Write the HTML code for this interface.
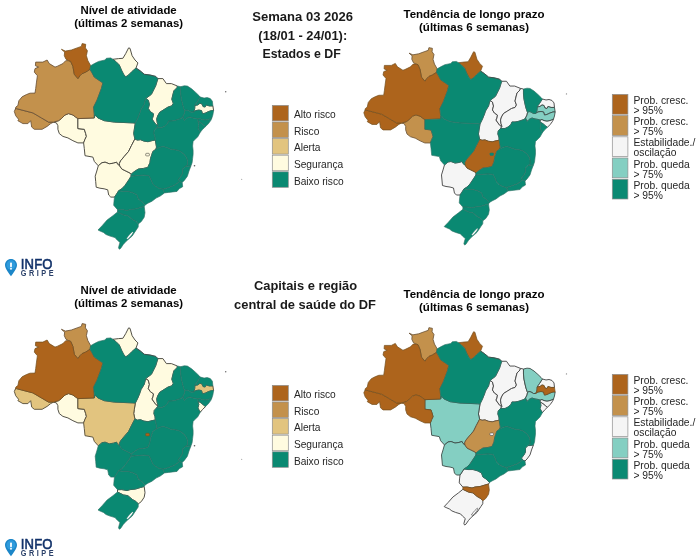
<!DOCTYPE html>
<html lang="pt-BR">
<head>
<meta charset="utf-8">
<title>InfoGripe - Semana 03 2026</title>
<style>
html,body{margin:0;padding:0;background:#fff;}
body{width:700px;height:560px;overflow:hidden;position:relative;font-family:"Liberation Sans",sans-serif;}
svg{position:absolute;left:0;top:0;display:block;}
.st path{stroke-linejoin:round;}
.mt{font:bold 11.4px "Liberation Sans",sans-serif;fill:#050505;text-anchor:middle;}
.m2{font-size:11.5px;}
.ct{font:bold 12.9px "Liberation Sans",sans-serif;fill:#1a1a1a;text-anchor:middle;}
.lt text{font:10.2px "Liberation Sans",sans-serif;fill:#262626;}
.lt2 text{font:10.3px "Liberation Sans",sans-serif;fill:#262626;}
.lg1{font:14px "Liberation Sans",sans-serif;fill:#12326a;stroke:#12326a;stroke-width:0.55;letter-spacing:0.2px;}
.lg2{font:bold 8.2px "Liberation Sans",sans-serif;fill:#2a4069;letter-spacing:2.85px;}
</style>
</head>
<body>
<svg width="700" height="560" viewBox="0 0 700 560">
<rect width="700" height="560" fill="#fff"/>
<g class="st">
<g transform="translate(0,0)">
<path d="M112.9,59.3L118.6,58.6L122.9,58.3L125.7,53.6L128.6,47.9L130.0,48.3L132.1,55.7L135.0,60.0L137.9,62.9L136.0,68.0L131.4,72.1L128.6,75.0L125.7,76.9L123.6,74.3L121.4,70.0L119.3,65.0L115.7,61.4L112.9,59.3Z" fill="#fffbe0" stroke="#4a483f" stroke-width="0.95"/>
<path d="M53.6,122.1L58.6,120.7L61.4,118.6L65.0,115.0L68.6,113.6L72.9,115.0L75.7,117.1L77.9,118.6L77.9,128.6L84.3,129.3L85.7,133.6L86.4,136.4L85.0,139.3L83.6,142.9L77.9,142.9L72.9,140.7L67.9,137.9L62.9,136.4L59.3,133.6L57.9,129.3L57.9,125.7L56.4,122.9L53.6,122.1Z" fill="#fffbe0" stroke="#4a483f" stroke-width="0.95"/>
<path d="M77.9,118.6L94.3,117.9L95.1,114.9L97.9,117.9L104.3,120.7L114.3,122.1L132.9,122.9L135.3,123.1L134.3,129.4L133.7,133.5L134.9,139.0L131.4,145.7L128.6,151.4L124.3,156.4L120.7,160.7L119.3,163.6L119.7,165.8L117.6,164.3L116.6,162.2L113.4,163.2L109.3,163.8L105.1,162.2L102.0,162.7L98.3,165.8L94.3,161.4L92.9,157.1L85.0,155.7L84.3,148.6L83.6,142.9L85.0,139.3L86.4,136.4L85.7,133.6L84.3,129.3L77.9,128.6L77.9,118.6Z" fill="#fffbe0" stroke="#4a483f" stroke-width="0.95"/>
<path d="M98.3,165.8L102.0,162.7L105.1,162.2L109.3,163.8L113.4,163.2L116.6,162.2L117.6,164.3L119.7,165.8L121.8,169.0L125.9,171.0L130.1,173.1L131.1,174.2L131.1,176.2L129.1,179.4L127.0,182.5L124.9,185.6L121.8,188.8L118.6,190.8L116.6,194.0L114.5,197.1L110.8,197.1L108.7,195.0L107.7,189.8L104.1,188.8L99.9,188.2L96.2,187.2L95.7,181.5L95.2,176.2L96.8,171.0L98.3,165.8Z" fill="#fffbe0" stroke="#4a483f" stroke-width="0.95"/>
<path d="M157.9,78.6L162.9,78.6L166.4,83.6L171.4,83.6L177.4,86.0L177.0,87.7L173.9,90.8L172.8,95.0L171.8,99.2L173.3,103.3L171.8,105.9L168.1,107.0L164.0,109.6L159.8,112.2L157.7,115.8L156.7,119.0L157.2,122.6L158.2,125.7L156.1,124.7L154.1,122.1L152.0,119.0L153.0,116.9L153.5,113.8L150.4,111.7L148.3,108.5L149.4,104.4L148.3,100.2L145.7,98.6L151.4,94.3L155.7,85.7L157.9,78.6Z" fill="#fffbe0" stroke="#4a483f" stroke-width="0.95"/>
<path d="M212.9,105.9L213.6,110.6L211.4,110.6L208.2,111.7L205.1,113.2L202.5,113.8L201.5,110.6L198.9,110.1L195.7,110.6L193.1,112.2L194.2,110.6L194.7,108.5L194.9,105.4L197.8,104.9L199.9,103.3L202.0,103.9L203.0,106.5L205.1,107.0L206.1,104.9L209.3,105.9L212.9,105.9Z" fill="#fffbe0" stroke="#4a483f" stroke-width="0.95"/>
<path d="M134.9,139.0L137.4,140.1L140.5,139.7L143.9,141.1L148.0,141.7L152.2,140.6L155.3,140.0L156.5,147.1L155.9,149.2L152.8,151.5L151.7,154.9L150.5,158.5L149.9,162.7L149.4,163.8L147.8,167.4L143.6,168.4L138.4,169.0L134.3,171.6L131.1,174.2L130.1,173.1L125.9,171.0L121.8,169.0L119.7,165.8L119.3,163.6L120.7,160.7L124.3,156.4L128.6,151.4L131.4,145.7L134.9,139.0Z" fill="#fffbe0" stroke="#4a483f" stroke-width="0.95"/>
<path d="M15.4,109.0L16.4,108.6L32.9,112.9L41.4,117.9L48.6,122.1L53.6,122.1L50.7,123.6L47.1,126.4L42.1,129.3L34.3,129.3L31.7,127.1L30.7,120.7L27.9,123.6L22.9,123.6L17.9,120.7L18.6,119.3L15.7,115.7L14.3,111.4L15.4,109.0Z" fill="#c3914c" stroke="#6a5236" stroke-width="0.85"/>
<path d="M15.4,109.0L15.9,107.0L17.9,105.5L18.9,100.7L22.1,96.8L26.4,94.6L30.0,93.2L35.0,93.1L35.7,88.6L36.4,82.9L37.4,75.7L34.3,72.1L35.0,68.6L38.6,67.1L35.4,65.7L35.7,62.1L42.9,62.1L47.1,60.0L49.3,63.6L55.0,67.1L57.1,66.4L62.9,63.6L65.7,60.7L68.6,60.7L70.7,61.4L72.9,66.4L74.3,74.3L77.9,78.6L80.0,75.7L82.1,73.6L85.7,72.1L90.0,69.3L92.1,72.9L94.3,77.1L102.9,82.9L101.4,88.6L97.1,100.0L93.6,107.1L94.3,114.3L94.3,117.9L77.9,118.6L75.7,117.1L72.9,115.0L68.6,113.6L65.0,115.0L61.4,118.6L58.6,120.7L53.6,122.1L48.6,122.1L41.4,117.9L32.9,112.9L16.4,108.6L15.4,109.0Z" fill="#c3914c" stroke="#6a5236" stroke-width="0.85"/>
<path d="M68.6,60.7L66.0,59.3L64.3,55.7L64.6,52.1L61.4,49.3L65.4,51.1L71.4,50.0L77.1,47.9L81.4,46.4L82.1,43.6L85.7,44.3L85.4,47.9L87.4,50.7L86.4,55.7L87.9,60.7L90.7,65.7L90.0,69.3L85.7,72.1L82.1,73.6L80.0,75.7L77.9,78.6L74.3,74.3L72.9,66.4L70.7,61.4L68.6,60.7Z" fill="#ad641c" stroke="#74501f" stroke-width="0.75"/>
<path d="M90.7,65.7L94.3,63.6L98.6,61.4L105.0,60.0L106.4,58.3L110.7,57.9L112.9,59.3L115.7,61.4L119.3,65.0L121.4,70.0L123.6,74.3L125.7,76.9L128.6,75.0L131.4,72.1L136.0,68.0L140.0,70.7L144.3,74.3L150.0,75.0L155.7,76.4L157.9,78.6L155.7,85.7L151.4,94.3L145.7,98.6L144.2,104.4L141.0,109.6L140.0,112.7L137.9,117.9L135.3,123.1L132.9,122.9L114.3,122.1L104.3,120.7L97.9,117.9L95.1,114.9L94.3,117.9L94.3,114.3L93.6,107.1L97.1,100.0L101.4,88.6L102.9,82.9L94.3,77.1L92.1,72.9L90.0,69.3L90.7,65.7Z" fill="#0a8972" stroke="#2d7164" stroke-width="0.65"/>
<path d="M135.3,123.1L137.9,117.9L140.0,112.7L141.0,109.6L144.2,104.4L145.7,98.6L148.3,100.2L149.4,104.4L148.3,108.5L150.4,111.7L153.5,113.8L153.0,116.9L152.0,119.0L154.1,122.1L156.1,124.7L158.2,125.7L156.7,127.8L154.3,130.4L153.9,133.5L155.0,136.7L155.3,140.0L152.2,140.6L148.0,141.7L143.9,141.1L140.5,139.7L137.4,140.1L134.9,139.0L133.7,133.5L134.3,129.4L135.3,123.1Z" fill="#0a8972" stroke="#2d7164" stroke-width="0.65"/>
<path d="M177.4,86.0L180.6,86.7L180.6,91.9L181.1,97.1L182.2,102.3L183.2,106.5L184.8,111.1L184.3,113.8L182.7,116.9L181.1,118.4L178.0,119.5L174.9,120.5L171.8,121.0L168.6,121.0L167.6,123.6L164.5,126.3L161.4,127.8L156.7,127.8L158.2,125.7L157.2,122.6L156.7,119.0L157.7,115.8L159.8,112.2L164.0,109.6L168.1,107.0L171.8,105.9L173.3,103.3L171.8,99.2L172.8,95.0L173.9,90.8L177.0,87.7L177.4,86.0Z" fill="#0a8972" stroke="#2d7164" stroke-width="0.65"/>
<path d="M180.6,86.7L184.3,85.8L187.4,86.1L191.6,88.8L195.7,92.4L198.9,95.5L200.4,97.1L198.9,99.2L197.3,101.8L195.7,103.9L194.9,105.4L194.7,108.5L194.2,110.6L193.1,112.2L191.0,112.2L188.4,110.6L186.4,110.1L184.8,111.1L183.2,106.5L182.2,102.3L181.1,97.1L180.6,91.9L180.6,86.7Z" fill="#0a8972" stroke="#2d7164" stroke-width="0.65"/>
<path d="M200.4,97.1L204.1,98.1L207.2,97.6L210.3,98.6L212.4,101.2L212.9,105.9L209.3,105.9L206.1,104.9L205.1,107.0L203.0,106.5L202.0,103.9L199.9,103.3L197.8,104.9L194.9,105.4L195.7,103.9L197.3,101.8L198.9,99.2L200.4,97.1Z" fill="#0a8972" stroke="#2d7164" stroke-width="0.65"/>
<path d="M213.6,110.6L212.9,114.8L211.9,117.9L208.2,119.5L205.1,120.0L202.0,119.5L199.9,118.4L197.8,119.0L195.7,118.4L192.6,117.9L189.5,116.9L186.4,118.4L184.3,120.5L182.7,116.9L184.3,113.8L184.8,111.1L186.4,110.1L188.4,110.6L191.0,112.2L193.1,112.2L195.7,110.6L198.9,110.1L201.5,110.6L202.5,113.8L205.1,113.2L208.2,111.7L211.4,110.6L213.6,110.6Z" fill="#0a8972" stroke="#2d7164" stroke-width="0.65"/>
<path d="M211.9,117.9L210.9,120.3L208.4,123.7L205.5,126.6L203.4,124.9L200.9,122.8L198.8,121.6L197.9,121.2L197.8,119.0L199.9,118.4L202.0,119.5L205.1,120.0L208.2,119.5L211.9,117.9Z" fill="#0a8972" stroke="#2d7164" stroke-width="0.65"/>
<path d="M205.5,126.6L202.5,129.5L200.4,132.1L199.2,130.4L197.9,127.9L198.8,124.5L197.9,121.2L198.8,121.6L200.9,122.8L203.4,124.9L205.5,126.6Z" fill="#0a8972" stroke="#2d7164" stroke-width="0.65"/>
<path d="M200.4,132.1L197.8,136.7L194.7,139.8L193.1,141.4L192.6,146.0L193.1,150.2L193.1,154.4L192.6,158.5L192.1,162.7L191.0,165.8L187.4,166.4L185.3,166.4L187.4,164.8L187.4,160.6L186.4,157.5L184.3,154.4L180.1,151.2L177.0,150.2L170.7,149.2L166.6,147.6L163.4,146.6L159.8,147.3L155.9,149.2L156.5,147.1L155.3,140.0L155.0,136.7L153.9,133.5L154.3,130.4L156.7,127.8L161.4,127.8L164.5,126.3L167.6,123.6L168.6,121.0L171.8,121.0L174.9,120.5L178.0,119.5L181.1,118.4L182.7,116.9L184.3,120.5L186.4,118.4L189.5,116.9L192.6,117.9L195.7,118.4L197.8,119.0L197.9,121.2L198.8,124.5L197.9,127.9L199.2,130.4L200.4,132.1Z" fill="#0a8972" stroke="#2d7164" stroke-width="0.65"/>
<path d="M155.9,149.2L159.8,147.3L163.4,146.6L166.6,147.6L170.7,149.2L177.0,150.2L180.1,151.2L184.3,154.4L186.4,157.5L187.4,160.6L187.4,164.8L185.3,166.4L182.7,169.0L182.7,173.1L181.1,176.2L178.5,179.4L179.6,181.5L177.0,183.5L173.9,185.6L170.7,186.7L166.6,188.2L162.9,189.3L158.7,188.2L155.1,186.1L152.5,183.5L150.9,179.4L148.9,175.7L143.6,175.2L137.4,175.7L131.1,176.2L131.1,174.2L134.3,171.6L138.4,169.0L143.6,168.4L147.8,167.4L149.4,163.8L149.9,162.7L150.5,158.5L151.7,154.9L152.8,151.5L155.9,149.2Z" fill="#0a8972" stroke="#2d7164" stroke-width="0.65"/>
<path d="M191.0,165.8L189.0,171.0L187.4,176.2L184.3,180.4L182.2,182.5L179.6,181.5L178.5,179.4L181.1,176.2L182.7,173.1L182.7,169.0L185.3,166.4L187.4,166.4L191.0,165.8Z" fill="#0a8972" stroke="#2d7164" stroke-width="0.65"/>
<path d="M182.2,182.5L182.7,186.7L179.1,188.8L177.0,191.4L172.8,191.9L168.6,192.4L164.5,192.9L162.9,189.3L166.6,188.2L170.7,186.7L173.9,185.6L177.0,183.5L179.6,181.5L182.2,182.5Z" fill="#0a8972" stroke="#2d7164" stroke-width="0.65"/>
<path d="M164.5,192.9L160.3,196.0L156.1,198.1L152.0,201.2L147.8,203.3L145.2,204.9L141.6,201.2L138.4,199.2L136.9,195.0L133.2,192.9L128.0,191.4L122.8,191.4L118.6,190.8L121.8,188.8L124.9,185.6L127.0,182.5L129.1,179.4L131.1,176.2L137.4,175.7L143.6,175.2L148.9,175.7L150.9,179.4L152.5,183.5L155.1,186.1L158.7,188.2L162.9,189.3L164.5,192.9Z" fill="#0a8972" stroke="#2d7164" stroke-width="0.65"/>
<path d="M145.2,204.9L144.2,206.5L140.5,207.5L135.3,209.1L130.1,209.6L127.0,210.6L121.8,209.6L117.5,209.7L113.7,205.3L114.0,201.2L114.5,197.1L116.6,194.0L118.6,190.8L122.8,191.4L128.0,191.4L133.2,192.9L136.9,195.0L138.4,199.2L141.6,201.2L145.2,204.9Z" fill="#0a8972" stroke="#2d7164" stroke-width="0.65"/>
<path d="M144.2,206.5L145.0,212.7L144.2,217.2L141.3,221.6L138.3,223.9L136.1,221.6L132.3,219.4L127.9,215.7L123.4,214.9L117.5,212.0L117.5,209.7L121.8,209.6L127.0,210.6L130.1,209.6L135.3,209.1L140.5,207.5L144.2,206.5Z" fill="#0a8972" stroke="#2d7164" stroke-width="0.65"/>
<path d="M138.3,223.9L138.2,227.0L136.2,230.0L134.2,233.0L132.2,236.0L129.3,238.6L126.2,241.2L123.2,244.6L120.6,248.4L119.3,249.2L118.5,247.8L119.2,245.0L120.0,242.5L117.2,240.0L115.0,237.6L110.0,236.1L106.0,234.5L103.5,232.5L100.0,231.0L98.0,230.0L102.1,225.7L107.1,220.0L112.9,215.7L117.5,212.0L123.4,214.9L127.9,215.7L132.3,219.4L136.1,221.6L138.3,223.9Z" fill="#0a8972" stroke="#2d7164" stroke-width="0.65"/>
<path d="M145.7,153.9L146.2,153.3L148.9,153.3L149.4,153.9L149.4,155.4L148.9,155.9L146.2,155.9L145.7,155.4Z" fill="#fffbe0" stroke="#4a483f" stroke-width="0.6"/>
<path d="M136.0,68.0L140.0,70.7L144.3,74.3L150.0,75.0L155.7,76.4L157.9,78.6" fill="none" stroke="#3d4a46" stroke-width="0.9"/>
<path d="M126.4,238.6L128.0,236.4L130.0,234.0L132.4,231.7L133.3,232.3L132.0,234.6L130.0,236.9L127.8,239.2Z" fill="#fff" stroke="#2d7164" stroke-width="0.45"/>
<circle cx="225.7" cy="91.7" r="0.75" fill="#6a6a6a"/><circle cx="194.5" cy="165.8" r="0.8" fill="#5a5a5a"/><circle cx="241.7" cy="179.3" r="0.6" fill="#a0a0a0"/>
</g>
<g transform="translate(350.1,5.8) scale(0.96)">
<path d="M98.3,165.8L102.0,162.7L105.1,162.2L109.3,163.8L113.4,163.2L116.6,162.2L117.6,164.3L119.7,165.8L121.8,169.0L125.9,171.0L130.1,173.1L131.1,174.2L131.1,176.2L129.1,179.4L127.0,182.5L124.9,185.6L121.8,188.8L118.6,190.8L116.6,194.0L114.5,197.1L110.8,197.1L108.7,195.0L107.7,189.8L104.1,188.8L99.9,188.2L96.2,187.2L95.7,181.5L95.2,176.2L96.8,171.0L98.3,165.8Z" fill="#f5f5f5" stroke="#444444" stroke-width="0.95"/>
<path d="M135.3,123.1L137.9,117.9L140.0,112.7L141.0,109.6L144.2,104.4L145.7,98.6L148.3,100.2L149.4,104.4L148.3,108.5L150.4,111.7L153.5,113.8L153.0,116.9L152.0,119.0L154.1,122.1L156.1,124.7L158.2,125.7L156.7,127.8L154.3,130.4L153.9,133.5L155.0,136.7L155.3,140.0L152.2,140.6L148.0,141.7L143.9,141.1L140.5,139.7L137.4,140.1L134.9,139.0L133.7,133.5L134.3,129.4L135.3,123.1Z" fill="#f5f5f5" stroke="#444444" stroke-width="0.95"/>
<path d="M157.9,78.6L162.9,78.6L166.4,83.6L171.4,83.6L177.4,86.0L177.0,87.7L173.9,90.8L172.8,95.0L171.8,99.2L173.3,103.3L171.8,105.9L168.1,107.0L164.0,109.6L159.8,112.2L157.7,115.8L156.7,119.0L157.2,122.6L158.2,125.7L156.1,124.7L154.1,122.1L152.0,119.0L153.0,116.9L153.5,113.8L150.4,111.7L148.3,108.5L149.4,104.4L148.3,100.2L145.7,98.6L151.4,94.3L155.7,85.7L157.9,78.6Z" fill="#f5f5f5" stroke="#444444" stroke-width="0.95"/>
<path d="M177.4,86.0L180.6,86.7L180.6,91.9L181.1,97.1L182.2,102.3L183.2,106.5L184.8,111.1L184.3,113.8L182.7,116.9L181.1,118.4L178.0,119.5L174.9,120.5L171.8,121.0L168.6,121.0L167.6,123.6L164.5,126.3L161.4,127.8L156.7,127.8L158.2,125.7L157.2,122.6L156.7,119.0L157.7,115.8L159.8,112.2L164.0,109.6L168.1,107.0L171.8,105.9L173.3,103.3L171.8,99.2L172.8,95.0L173.9,90.8L177.0,87.7L177.4,86.0Z" fill="#f5f5f5" stroke="#444444" stroke-width="0.95"/>
<path d="M200.4,97.1L204.1,98.1L207.2,97.6L210.3,98.6L212.4,101.2L212.9,105.9L209.3,105.9L206.1,104.9L205.1,107.0L203.0,106.5L202.0,103.9L199.9,103.3L197.8,104.9L194.9,105.4L195.7,103.9L197.3,101.8L198.9,99.2L200.4,97.1Z" fill="#f5f5f5" stroke="#444444" stroke-width="0.95"/>
<path d="M211.9,117.9L210.9,120.3L208.4,123.7L205.5,126.6L203.4,124.9L200.9,122.8L198.8,121.6L197.9,121.2L197.8,119.0L199.9,118.4L202.0,119.5L205.1,120.0L208.2,119.5L211.9,117.9Z" fill="#f5f5f5" stroke="#444444" stroke-width="0.95"/>
<path d="M212.9,105.9L213.6,110.6L211.4,110.6L208.2,111.7L205.1,113.2L202.5,113.8L201.5,110.6L198.9,110.1L195.7,110.6L193.1,112.2L194.2,110.6L194.7,108.5L194.9,105.4L197.8,104.9L199.9,103.3L202.0,103.9L203.0,106.5L205.1,107.0L206.1,104.9L209.3,105.9L212.9,105.9Z" fill="#84cfc2" stroke="#3f4e4a" stroke-width="0.95"/>
<path d="M213.6,110.6L212.9,114.8L211.9,117.9L208.2,119.5L205.1,120.0L202.0,119.5L199.9,118.4L197.8,119.0L195.7,118.4L192.6,117.9L189.5,116.9L186.4,118.4L184.3,120.5L182.7,116.9L184.3,113.8L184.8,111.1L186.4,110.1L188.4,110.6L191.0,112.2L193.1,112.2L195.7,110.6L198.9,110.1L201.5,110.6L202.5,113.8L205.1,113.2L208.2,111.7L211.4,110.6L213.6,110.6Z" fill="#84cfc2" stroke="#3f4e4a" stroke-width="0.95"/>
<path d="M68.6,60.7L66.0,59.3L64.3,55.7L64.6,52.1L61.4,49.3L65.4,51.1L71.4,50.0L77.1,47.9L81.4,46.4L82.1,43.6L85.7,44.3L85.4,47.9L87.4,50.7L86.4,55.7L87.9,60.7L90.7,65.7L90.0,69.3L85.7,72.1L82.1,73.6L80.0,75.7L77.9,78.6L74.3,74.3L72.9,66.4L70.7,61.4L68.6,60.7Z" fill="#c3914c" stroke="#6a5236" stroke-width="0.85"/>
<path d="M53.6,122.1L58.6,120.7L61.4,118.6L65.0,115.0L68.6,113.6L72.9,115.0L75.7,117.1L77.9,118.6L77.9,128.6L84.3,129.3L85.7,133.6L86.4,136.4L85.0,139.3L83.6,142.9L77.9,142.9L72.9,140.7L67.9,137.9L62.9,136.4L59.3,133.6L57.9,129.3L57.9,125.7L56.4,122.9L53.6,122.1Z" fill="#c3914c" stroke="#6a5236" stroke-width="0.85"/>
<path d="M15.4,109.0L16.4,108.6L32.9,112.9L41.4,117.9L48.6,122.1L53.6,122.1L50.7,123.6L47.1,126.4L42.1,129.3L34.3,129.3L31.7,127.1L30.7,120.7L27.9,123.6L22.9,123.6L17.9,120.7L18.6,119.3L15.7,115.7L14.3,111.4L15.4,109.0Z" fill="#ad641c" stroke="#74501f" stroke-width="0.75"/>
<path d="M15.4,109.0L15.9,107.0L17.9,105.5L18.9,100.7L22.1,96.8L26.4,94.6L30.0,93.2L35.0,93.1L35.7,88.6L36.4,82.9L37.4,75.7L34.3,72.1L35.0,68.6L38.6,67.1L35.4,65.7L35.7,62.1L42.9,62.1L47.1,60.0L49.3,63.6L55.0,67.1L57.1,66.4L62.9,63.6L65.7,60.7L68.6,60.7L70.7,61.4L72.9,66.4L74.3,74.3L77.9,78.6L80.0,75.7L82.1,73.6L85.7,72.1L90.0,69.3L92.1,72.9L94.3,77.1L102.9,82.9L101.4,88.6L97.1,100.0L93.6,107.1L94.3,114.3L94.3,117.9L77.9,118.6L75.7,117.1L72.9,115.0L68.6,113.6L65.0,115.0L61.4,118.6L58.6,120.7L53.6,122.1L48.6,122.1L41.4,117.9L32.9,112.9L16.4,108.6L15.4,109.0Z" fill="#ad641c" stroke="#74501f" stroke-width="0.75"/>
<path d="M112.9,59.3L118.6,58.6L122.9,58.3L125.7,53.6L128.6,47.9L130.0,48.3L132.1,55.7L135.0,60.0L137.9,62.9L136.0,68.0L131.4,72.1L128.6,75.0L125.7,76.9L123.6,74.3L121.4,70.0L119.3,65.0L115.7,61.4L112.9,59.3Z" fill="#ad641c" stroke="#74501f" stroke-width="0.75"/>
<path d="M134.9,139.0L137.4,140.1L140.5,139.7L143.9,141.1L148.0,141.7L152.2,140.6L155.3,140.0L156.5,147.1L155.9,149.2L152.8,151.5L151.7,154.9L150.5,158.5L149.9,162.7L149.4,163.8L147.8,167.4L143.6,168.4L138.4,169.0L134.3,171.6L131.1,174.2L130.1,173.1L125.9,171.0L121.8,169.0L119.7,165.8L119.3,163.6L120.7,160.7L124.3,156.4L128.6,151.4L131.4,145.7L134.9,139.0Z" fill="#ad641c" stroke="#74501f" stroke-width="0.75"/>
<path d="M90.7,65.7L94.3,63.6L98.6,61.4L105.0,60.0L106.4,58.3L110.7,57.9L112.9,59.3L115.7,61.4L119.3,65.0L121.4,70.0L123.6,74.3L125.7,76.9L128.6,75.0L131.4,72.1L136.0,68.0L140.0,70.7L144.3,74.3L150.0,75.0L155.7,76.4L157.9,78.6L155.7,85.7L151.4,94.3L145.7,98.6L144.2,104.4L141.0,109.6L140.0,112.7L137.9,117.9L135.3,123.1L132.9,122.9L114.3,122.1L104.3,120.7L97.9,117.9L95.1,114.9L94.3,117.9L94.3,114.3L93.6,107.1L97.1,100.0L101.4,88.6L102.9,82.9L94.3,77.1L92.1,72.9L90.0,69.3L90.7,65.7Z" fill="#0a8972" stroke="#2d7164" stroke-width="0.65"/>
<path d="M77.9,118.6L94.3,117.9L95.1,114.9L97.9,117.9L104.3,120.7L114.3,122.1L132.9,122.9L135.3,123.1L134.3,129.4L133.7,133.5L134.9,139.0L131.4,145.7L128.6,151.4L124.3,156.4L120.7,160.7L119.3,163.6L119.7,165.8L117.6,164.3L116.6,162.2L113.4,163.2L109.3,163.8L105.1,162.2L102.0,162.7L98.3,165.8L94.3,161.4L92.9,157.1L85.0,155.7L84.3,148.6L83.6,142.9L85.0,139.3L86.4,136.4L85.7,133.6L84.3,129.3L77.9,128.6L77.9,118.6Z" fill="#0a8972" stroke="#2d7164" stroke-width="0.65"/>
<path d="M180.6,86.7L184.3,85.8L187.4,86.1L191.6,88.8L195.7,92.4L198.9,95.5L200.4,97.1L198.9,99.2L197.3,101.8L195.7,103.9L194.9,105.4L194.7,108.5L194.2,110.6L193.1,112.2L191.0,112.2L188.4,110.6L186.4,110.1L184.8,111.1L183.2,106.5L182.2,102.3L181.1,97.1L180.6,91.9L180.6,86.7Z" fill="#0a8972" stroke="#2d7164" stroke-width="0.65"/>
<path d="M205.5,126.6L202.5,129.5L200.4,132.1L199.2,130.4L197.9,127.9L198.8,124.5L197.9,121.2L198.8,121.6L200.9,122.8L203.4,124.9L205.5,126.6Z" fill="#0a8972" stroke="#2d7164" stroke-width="0.65"/>
<path d="M200.4,132.1L197.8,136.7L194.7,139.8L193.1,141.4L192.6,146.0L193.1,150.2L193.1,154.4L192.6,158.5L192.1,162.7L191.0,165.8L187.4,166.4L185.3,166.4L187.4,164.8L187.4,160.6L186.4,157.5L184.3,154.4L180.1,151.2L177.0,150.2L170.7,149.2L166.6,147.6L163.4,146.6L159.8,147.3L155.9,149.2L156.5,147.1L155.3,140.0L155.0,136.7L153.9,133.5L154.3,130.4L156.7,127.8L161.4,127.8L164.5,126.3L167.6,123.6L168.6,121.0L171.8,121.0L174.9,120.5L178.0,119.5L181.1,118.4L182.7,116.9L184.3,120.5L186.4,118.4L189.5,116.9L192.6,117.9L195.7,118.4L197.8,119.0L197.9,121.2L198.8,124.5L197.9,127.9L199.2,130.4L200.4,132.1Z" fill="#0a8972" stroke="#2d7164" stroke-width="0.65"/>
<path d="M155.9,149.2L159.8,147.3L163.4,146.6L166.6,147.6L170.7,149.2L177.0,150.2L180.1,151.2L184.3,154.4L186.4,157.5L187.4,160.6L187.4,164.8L185.3,166.4L182.7,169.0L182.7,173.1L181.1,176.2L178.5,179.4L179.6,181.5L177.0,183.5L173.9,185.6L170.7,186.7L166.6,188.2L162.9,189.3L158.7,188.2L155.1,186.1L152.5,183.5L150.9,179.4L148.9,175.7L143.6,175.2L137.4,175.7L131.1,176.2L131.1,174.2L134.3,171.6L138.4,169.0L143.6,168.4L147.8,167.4L149.4,163.8L149.9,162.7L150.5,158.5L151.7,154.9L152.8,151.5L155.9,149.2Z" fill="#0a8972" stroke="#2d7164" stroke-width="0.65"/>
<path d="M191.0,165.8L189.0,171.0L187.4,176.2L184.3,180.4L182.2,182.5L179.6,181.5L178.5,179.4L181.1,176.2L182.7,173.1L182.7,169.0L185.3,166.4L187.4,166.4L191.0,165.8Z" fill="#0a8972" stroke="#2d7164" stroke-width="0.65"/>
<path d="M182.2,182.5L182.7,186.7L179.1,188.8L177.0,191.4L172.8,191.9L168.6,192.4L164.5,192.9L162.9,189.3L166.6,188.2L170.7,186.7L173.9,185.6L177.0,183.5L179.6,181.5L182.2,182.5Z" fill="#0a8972" stroke="#2d7164" stroke-width="0.65"/>
<path d="M164.5,192.9L160.3,196.0L156.1,198.1L152.0,201.2L147.8,203.3L145.2,204.9L141.6,201.2L138.4,199.2L136.9,195.0L133.2,192.9L128.0,191.4L122.8,191.4L118.6,190.8L121.8,188.8L124.9,185.6L127.0,182.5L129.1,179.4L131.1,176.2L137.4,175.7L143.6,175.2L148.9,175.7L150.9,179.4L152.5,183.5L155.1,186.1L158.7,188.2L162.9,189.3L164.5,192.9Z" fill="#0a8972" stroke="#2d7164" stroke-width="0.65"/>
<path d="M145.2,204.9L144.2,206.5L140.5,207.5L135.3,209.1L130.1,209.6L127.0,210.6L121.8,209.6L117.5,209.7L113.7,205.3L114.0,201.2L114.5,197.1L116.6,194.0L118.6,190.8L122.8,191.4L128.0,191.4L133.2,192.9L136.9,195.0L138.4,199.2L141.6,201.2L145.2,204.9Z" fill="#0a8972" stroke="#2d7164" stroke-width="0.65"/>
<path d="M144.2,206.5L145.0,212.7L144.2,217.2L141.3,221.6L138.3,223.9L136.1,221.6L132.3,219.4L127.9,215.7L123.4,214.9L117.5,212.0L117.5,209.7L121.8,209.6L127.0,210.6L130.1,209.6L135.3,209.1L140.5,207.5L144.2,206.5Z" fill="#0a8972" stroke="#2d7164" stroke-width="0.65"/>
<path d="M138.3,223.9L138.2,227.0L136.2,230.0L134.2,233.0L132.2,236.0L129.3,238.6L126.2,241.2L123.2,244.6L120.6,248.4L119.3,249.2L118.5,247.8L119.2,245.0L120.0,242.5L117.2,240.0L115.0,237.6L110.0,236.1L106.0,234.5L103.5,232.5L100.0,231.0L98.0,230.0L102.1,225.7L107.1,220.0L112.9,215.7L117.5,212.0L123.4,214.9L127.9,215.7L132.3,219.4L136.1,221.6L138.3,223.9Z" fill="#0a8972" stroke="#2d7164" stroke-width="0.65"/>
<path d="M145.7,153.9L146.2,153.3L148.9,153.3L149.4,153.9L149.4,155.4L148.9,155.9L146.2,155.9L145.7,155.4Z" fill="#0a8972" stroke="#2d7164" stroke-width="0.6"/>
<path d="M136.0,68.0L140.0,70.7L144.3,74.3L150.0,75.0L155.7,76.4L157.9,78.6" fill="none" stroke="#3d4a46" stroke-width="0.9"/>
<path d="M126.4,238.6L128.0,236.4L130.0,234.0L132.4,231.7L133.3,232.3L132.0,234.6L130.0,236.9L127.8,239.2Z" fill="#fff" stroke="#2d7164" stroke-width="0.45"/>
<circle cx="225.4" cy="91.8" r="0.7" fill="#8a8a8a"/>
</g>
<g transform="translate(0,280)">
<path d="M112.9,59.3L118.6,58.6L122.9,58.3L125.7,53.6L128.6,47.9L130.0,48.3L132.1,55.7L135.0,60.0L137.9,62.9L136.0,68.0L131.4,72.1L128.6,75.0L125.7,76.9L123.6,74.3L121.4,70.0L119.3,65.0L115.7,61.4L112.9,59.3Z" fill="#fffbe0" stroke="#4a483f" stroke-width="0.95"/>
<path d="M53.6,122.1L58.6,120.7L61.4,118.6L65.0,115.0L68.6,113.6L72.9,115.0L75.7,117.1L77.9,118.6L77.9,128.6L84.3,129.3L85.7,133.6L86.4,136.4L85.0,139.3L83.6,142.9L77.9,142.9L72.9,140.7L67.9,137.9L62.9,136.4L59.3,133.6L57.9,129.3L57.9,125.7L56.4,122.9L53.6,122.1Z" fill="#fffbe0" stroke="#4a483f" stroke-width="0.95"/>
<path d="M135.3,123.1L137.9,117.9L140.0,112.7L141.0,109.6L144.2,104.4L145.7,98.6L148.3,100.2L149.4,104.4L148.3,108.5L150.4,111.7L153.5,113.8L153.0,116.9L152.0,119.0L154.1,122.1L156.1,124.7L158.2,125.7L156.7,127.8L154.3,130.4L153.9,133.5L155.0,136.7L155.3,140.0L152.2,140.6L148.0,141.7L143.9,141.1L140.5,139.7L137.4,140.1L134.9,139.0L133.7,133.5L134.3,129.4L135.3,123.1Z" fill="#fffbe0" stroke="#4a483f" stroke-width="0.95"/>
<path d="M157.9,78.6L162.9,78.6L166.4,83.6L171.4,83.6L177.4,86.0L177.0,87.7L173.9,90.8L172.8,95.0L171.8,99.2L173.3,103.3L171.8,105.9L168.1,107.0L164.0,109.6L159.8,112.2L157.7,115.8L156.7,119.0L157.2,122.6L158.2,125.7L156.1,124.7L154.1,122.1L152.0,119.0L153.0,116.9L153.5,113.8L150.4,111.7L148.3,108.5L149.4,104.4L148.3,100.2L145.7,98.6L151.4,94.3L155.7,85.7L157.9,78.6Z" fill="#fffbe0" stroke="#4a483f" stroke-width="0.95"/>
<path d="M205.5,126.6L202.5,129.5L200.4,132.1L199.2,130.4L197.9,127.9L198.8,124.5L197.9,121.2L198.8,121.6L200.9,122.8L203.4,124.9L205.5,126.6Z" fill="#fffbe0" stroke="#4a483f" stroke-width="0.95"/>
<path d="M144.2,206.5L145.0,212.7L144.2,217.2L141.3,221.6L138.3,223.9L136.1,221.6L132.3,219.4L127.9,215.7L123.4,214.9L117.5,212.0L117.5,209.7L121.8,209.6L127.0,210.6L130.1,209.6L135.3,209.1L140.5,207.5L144.2,206.5Z" fill="#fffbe0" stroke="#4a483f" stroke-width="0.95"/>
<path d="M15.4,109.0L16.4,108.6L32.9,112.9L41.4,117.9L48.6,122.1L53.6,122.1L50.7,123.6L47.1,126.4L42.1,129.3L34.3,129.3L31.7,127.1L30.7,120.7L27.9,123.6L22.9,123.6L17.9,120.7L18.6,119.3L15.7,115.7L14.3,111.4L15.4,109.0Z" fill="#e2c47f" stroke="#5c523c" stroke-width="0.95"/>
<path d="M77.9,118.6L94.3,117.9L95.1,114.9L97.9,117.9L104.3,120.7L114.3,122.1L132.9,122.9L135.3,123.1L134.3,129.4L133.7,133.5L134.9,139.0L131.4,145.7L128.6,151.4L124.3,156.4L120.7,160.7L119.3,163.6L119.7,165.8L117.6,164.3L116.6,162.2L113.4,163.2L109.3,163.8L105.1,162.2L102.0,162.7L98.3,165.8L94.3,161.4L92.9,157.1L85.0,155.7L84.3,148.6L83.6,142.9L85.0,139.3L86.4,136.4L85.7,133.6L84.3,129.3L77.9,128.6L77.9,118.6Z" fill="#e2c47f" stroke="#5c523c" stroke-width="0.95"/>
<path d="M212.9,105.9L213.6,110.6L211.4,110.6L208.2,111.7L205.1,113.2L202.5,113.8L201.5,110.6L198.9,110.1L195.7,110.6L193.1,112.2L194.2,110.6L194.7,108.5L194.9,105.4L197.8,104.9L199.9,103.3L202.0,103.9L203.0,106.5L205.1,107.0L206.1,104.9L209.3,105.9L212.9,105.9Z" fill="#e2c47f" stroke="#5c523c" stroke-width="0.95"/>
<path d="M68.6,60.7L66.0,59.3L64.3,55.7L64.6,52.1L61.4,49.3L65.4,51.1L71.4,50.0L77.1,47.9L81.4,46.4L82.1,43.6L85.7,44.3L85.4,47.9L87.4,50.7L86.4,55.7L87.9,60.7L90.7,65.7L90.0,69.3L85.7,72.1L82.1,73.6L80.0,75.7L77.9,78.6L74.3,74.3L72.9,66.4L70.7,61.4L68.6,60.7Z" fill="#c3914c" stroke="#6a5236" stroke-width="0.85"/>
<path d="M15.4,109.0L15.9,107.0L17.9,105.5L18.9,100.7L22.1,96.8L26.4,94.6L30.0,93.2L35.0,93.1L35.7,88.6L36.4,82.9L37.4,75.7L34.3,72.1L35.0,68.6L38.6,67.1L35.4,65.7L35.7,62.1L42.9,62.1L47.1,60.0L49.3,63.6L55.0,67.1L57.1,66.4L62.9,63.6L65.7,60.7L68.6,60.7L70.7,61.4L72.9,66.4L74.3,74.3L77.9,78.6L80.0,75.7L82.1,73.6L85.7,72.1L90.0,69.3L92.1,72.9L94.3,77.1L102.9,82.9L101.4,88.6L97.1,100.0L93.6,107.1L94.3,114.3L94.3,117.9L77.9,118.6L75.7,117.1L72.9,115.0L68.6,113.6L65.0,115.0L61.4,118.6L58.6,120.7L53.6,122.1L48.6,122.1L41.4,117.9L32.9,112.9L16.4,108.6L15.4,109.0Z" fill="#ad641c" stroke="#74501f" stroke-width="0.75"/>
<path d="M90.7,65.7L94.3,63.6L98.6,61.4L105.0,60.0L106.4,58.3L110.7,57.9L112.9,59.3L115.7,61.4L119.3,65.0L121.4,70.0L123.6,74.3L125.7,76.9L128.6,75.0L131.4,72.1L136.0,68.0L140.0,70.7L144.3,74.3L150.0,75.0L155.7,76.4L157.9,78.6L155.7,85.7L151.4,94.3L145.7,98.6L144.2,104.4L141.0,109.6L140.0,112.7L137.9,117.9L135.3,123.1L132.9,122.9L114.3,122.1L104.3,120.7L97.9,117.9L95.1,114.9L94.3,117.9L94.3,114.3L93.6,107.1L97.1,100.0L101.4,88.6L102.9,82.9L94.3,77.1L92.1,72.9L90.0,69.3L90.7,65.7Z" fill="#0a8972" stroke="#2d7164" stroke-width="0.65"/>
<path d="M98.3,165.8L102.0,162.7L105.1,162.2L109.3,163.8L113.4,163.2L116.6,162.2L117.6,164.3L119.7,165.8L121.8,169.0L125.9,171.0L130.1,173.1L131.1,174.2L131.1,176.2L129.1,179.4L127.0,182.5L124.9,185.6L121.8,188.8L118.6,190.8L116.6,194.0L114.5,197.1L110.8,197.1L108.7,195.0L107.7,189.8L104.1,188.8L99.9,188.2L96.2,187.2L95.7,181.5L95.2,176.2L96.8,171.0L98.3,165.8Z" fill="#0a8972" stroke="#2d7164" stroke-width="0.65"/>
<path d="M177.4,86.0L180.6,86.7L180.6,91.9L181.1,97.1L182.2,102.3L183.2,106.5L184.8,111.1L184.3,113.8L182.7,116.9L181.1,118.4L178.0,119.5L174.9,120.5L171.8,121.0L168.6,121.0L167.6,123.6L164.5,126.3L161.4,127.8L156.7,127.8L158.2,125.7L157.2,122.6L156.7,119.0L157.7,115.8L159.8,112.2L164.0,109.6L168.1,107.0L171.8,105.9L173.3,103.3L171.8,99.2L172.8,95.0L173.9,90.8L177.0,87.7L177.4,86.0Z" fill="#0a8972" stroke="#2d7164" stroke-width="0.65"/>
<path d="M180.6,86.7L184.3,85.8L187.4,86.1L191.6,88.8L195.7,92.4L198.9,95.5L200.4,97.1L198.9,99.2L197.3,101.8L195.7,103.9L194.9,105.4L194.7,108.5L194.2,110.6L193.1,112.2L191.0,112.2L188.4,110.6L186.4,110.1L184.8,111.1L183.2,106.5L182.2,102.3L181.1,97.1L180.6,91.9L180.6,86.7Z" fill="#0a8972" stroke="#2d7164" stroke-width="0.65"/>
<path d="M200.4,97.1L204.1,98.1L207.2,97.6L210.3,98.6L212.4,101.2L212.9,105.9L209.3,105.9L206.1,104.9L205.1,107.0L203.0,106.5L202.0,103.9L199.9,103.3L197.8,104.9L194.9,105.4L195.7,103.9L197.3,101.8L198.9,99.2L200.4,97.1Z" fill="#0a8972" stroke="#2d7164" stroke-width="0.65"/>
<path d="M213.6,110.6L212.9,114.8L211.9,117.9L208.2,119.5L205.1,120.0L202.0,119.5L199.9,118.4L197.8,119.0L195.7,118.4L192.6,117.9L189.5,116.9L186.4,118.4L184.3,120.5L182.7,116.9L184.3,113.8L184.8,111.1L186.4,110.1L188.4,110.6L191.0,112.2L193.1,112.2L195.7,110.6L198.9,110.1L201.5,110.6L202.5,113.8L205.1,113.2L208.2,111.7L211.4,110.6L213.6,110.6Z" fill="#0a8972" stroke="#2d7164" stroke-width="0.65"/>
<path d="M211.9,117.9L210.9,120.3L208.4,123.7L205.5,126.6L203.4,124.9L200.9,122.8L198.8,121.6L197.9,121.2L197.8,119.0L199.9,118.4L202.0,119.5L205.1,120.0L208.2,119.5L211.9,117.9Z" fill="#0a8972" stroke="#2d7164" stroke-width="0.65"/>
<path d="M200.4,132.1L197.8,136.7L194.7,139.8L193.1,141.4L192.6,146.0L193.1,150.2L193.1,154.4L192.6,158.5L192.1,162.7L191.0,165.8L187.4,166.4L185.3,166.4L187.4,164.8L187.4,160.6L186.4,157.5L184.3,154.4L180.1,151.2L177.0,150.2L170.7,149.2L166.6,147.6L163.4,146.6L159.8,147.3L155.9,149.2L156.5,147.1L155.3,140.0L155.0,136.7L153.9,133.5L154.3,130.4L156.7,127.8L161.4,127.8L164.5,126.3L167.6,123.6L168.6,121.0L171.8,121.0L174.9,120.5L178.0,119.5L181.1,118.4L182.7,116.9L184.3,120.5L186.4,118.4L189.5,116.9L192.6,117.9L195.7,118.4L197.8,119.0L197.9,121.2L198.8,124.5L197.9,127.9L199.2,130.4L200.4,132.1Z" fill="#0a8972" stroke="#2d7164" stroke-width="0.65"/>
<path d="M134.9,139.0L137.4,140.1L140.5,139.7L143.9,141.1L148.0,141.7L152.2,140.6L155.3,140.0L156.5,147.1L155.9,149.2L152.8,151.5L151.7,154.9L150.5,158.5L149.9,162.7L149.4,163.8L147.8,167.4L143.6,168.4L138.4,169.0L134.3,171.6L131.1,174.2L130.1,173.1L125.9,171.0L121.8,169.0L119.7,165.8L119.3,163.6L120.7,160.7L124.3,156.4L128.6,151.4L131.4,145.7L134.9,139.0Z" fill="#0a8972" stroke="#2d7164" stroke-width="0.65"/>
<path d="M155.9,149.2L159.8,147.3L163.4,146.6L166.6,147.6L170.7,149.2L177.0,150.2L180.1,151.2L184.3,154.4L186.4,157.5L187.4,160.6L187.4,164.8L185.3,166.4L182.7,169.0L182.7,173.1L181.1,176.2L178.5,179.4L179.6,181.5L177.0,183.5L173.9,185.6L170.7,186.7L166.6,188.2L162.9,189.3L158.7,188.2L155.1,186.1L152.5,183.5L150.9,179.4L148.9,175.7L143.6,175.2L137.4,175.7L131.1,176.2L131.1,174.2L134.3,171.6L138.4,169.0L143.6,168.4L147.8,167.4L149.4,163.8L149.9,162.7L150.5,158.5L151.7,154.9L152.8,151.5L155.9,149.2Z" fill="#0a8972" stroke="#2d7164" stroke-width="0.65"/>
<path d="M191.0,165.8L189.0,171.0L187.4,176.2L184.3,180.4L182.2,182.5L179.6,181.5L178.5,179.4L181.1,176.2L182.7,173.1L182.7,169.0L185.3,166.4L187.4,166.4L191.0,165.8Z" fill="#0a8972" stroke="#2d7164" stroke-width="0.65"/>
<path d="M182.2,182.5L182.7,186.7L179.1,188.8L177.0,191.4L172.8,191.9L168.6,192.4L164.5,192.9L162.9,189.3L166.6,188.2L170.7,186.7L173.9,185.6L177.0,183.5L179.6,181.5L182.2,182.5Z" fill="#0a8972" stroke="#2d7164" stroke-width="0.65"/>
<path d="M164.5,192.9L160.3,196.0L156.1,198.1L152.0,201.2L147.8,203.3L145.2,204.9L141.6,201.2L138.4,199.2L136.9,195.0L133.2,192.9L128.0,191.4L122.8,191.4L118.6,190.8L121.8,188.8L124.9,185.6L127.0,182.5L129.1,179.4L131.1,176.2L137.4,175.7L143.6,175.2L148.9,175.7L150.9,179.4L152.5,183.5L155.1,186.1L158.7,188.2L162.9,189.3L164.5,192.9Z" fill="#0a8972" stroke="#2d7164" stroke-width="0.65"/>
<path d="M145.2,204.9L144.2,206.5L140.5,207.5L135.3,209.1L130.1,209.6L127.0,210.6L121.8,209.6L117.5,209.7L113.7,205.3L114.0,201.2L114.5,197.1L116.6,194.0L118.6,190.8L122.8,191.4L128.0,191.4L133.2,192.9L136.9,195.0L138.4,199.2L141.6,201.2L145.2,204.9Z" fill="#0a8972" stroke="#2d7164" stroke-width="0.65"/>
<path d="M138.3,223.9L138.2,227.0L136.2,230.0L134.2,233.0L132.2,236.0L129.3,238.6L126.2,241.2L123.2,244.6L120.6,248.4L119.3,249.2L118.5,247.8L119.2,245.0L120.0,242.5L117.2,240.0L115.0,237.6L110.0,236.1L106.0,234.5L103.5,232.5L100.0,231.0L98.0,230.0L102.1,225.7L107.1,220.0L112.9,215.7L117.5,212.0L123.4,214.9L127.9,215.7L132.3,219.4L136.1,221.6L138.3,223.9Z" fill="#0a8972" stroke="#2d7164" stroke-width="0.65"/>
<path d="M145.7,153.9L146.2,153.3L148.9,153.3L149.4,153.9L149.4,155.4L148.9,155.9L146.2,155.9L145.7,155.4Z" fill="#ad641c" stroke="#74501f" stroke-width="0.6"/>
<path d="M136.0,68.0L140.0,70.7L144.3,74.3L150.0,75.0L155.7,76.4L157.9,78.6" fill="none" stroke="#3d4a46" stroke-width="0.9"/>
<path d="M126.4,238.6L128.0,236.4L130.0,234.0L132.4,231.7L133.3,232.3L132.0,234.6L130.0,236.9L127.8,239.2Z" fill="#fff" stroke="#2d7164" stroke-width="0.45"/>
<circle cx="225.7" cy="91.7" r="0.75" fill="#6a6a6a"/><circle cx="194.5" cy="165.8" r="0.8" fill="#5a5a5a"/><circle cx="241.7" cy="179.3" r="0.6" fill="#a0a0a0"/>
</g>
<g transform="translate(350.1,285.8) scale(0.96)">
<path d="M135.3,123.1L137.9,117.9L140.0,112.7L141.0,109.6L144.2,104.4L145.7,98.6L148.3,100.2L149.4,104.4L148.3,108.5L150.4,111.7L153.5,113.8L153.0,116.9L152.0,119.0L154.1,122.1L156.1,124.7L158.2,125.7L156.7,127.8L154.3,130.4L153.9,133.5L155.0,136.7L155.3,140.0L152.2,140.6L148.0,141.7L143.9,141.1L140.5,139.7L137.4,140.1L134.9,139.0L133.7,133.5L134.3,129.4L135.3,123.1Z" fill="#f5f5f5" stroke="#444444" stroke-width="0.95"/>
<path d="M157.9,78.6L162.9,78.6L166.4,83.6L171.4,83.6L177.4,86.0L177.0,87.7L173.9,90.8L172.8,95.0L171.8,99.2L173.3,103.3L171.8,105.9L168.1,107.0L164.0,109.6L159.8,112.2L157.7,115.8L156.7,119.0L157.2,122.6L158.2,125.7L156.1,124.7L154.1,122.1L152.0,119.0L153.0,116.9L153.5,113.8L150.4,111.7L148.3,108.5L149.4,104.4L148.3,100.2L145.7,98.6L151.4,94.3L155.7,85.7L157.9,78.6Z" fill="#f5f5f5" stroke="#444444" stroke-width="0.95"/>
<path d="M177.4,86.0L180.6,86.7L180.6,91.9L181.1,97.1L182.2,102.3L183.2,106.5L184.8,111.1L184.3,113.8L182.7,116.9L181.1,118.4L178.0,119.5L174.9,120.5L171.8,121.0L168.6,121.0L167.6,123.6L164.5,126.3L161.4,127.8L156.7,127.8L158.2,125.7L157.2,122.6L156.7,119.0L157.7,115.8L159.8,112.2L164.0,109.6L168.1,107.0L171.8,105.9L173.3,103.3L171.8,99.2L172.8,95.0L173.9,90.8L177.0,87.7L177.4,86.0Z" fill="#f5f5f5" stroke="#444444" stroke-width="0.95"/>
<path d="M200.4,97.1L204.1,98.1L207.2,97.6L210.3,98.6L212.4,101.2L212.9,105.9L209.3,105.9L206.1,104.9L205.1,107.0L203.0,106.5L202.0,103.9L199.9,103.3L197.8,104.9L194.9,105.4L195.7,103.9L197.3,101.8L198.9,99.2L200.4,97.1Z" fill="#f5f5f5" stroke="#444444" stroke-width="0.95"/>
<path d="M211.9,117.9L210.9,120.3L208.4,123.7L205.5,126.6L203.4,124.9L200.9,122.8L198.8,121.6L197.9,121.2L197.8,119.0L199.9,118.4L202.0,119.5L205.1,120.0L208.2,119.5L211.9,117.9Z" fill="#f5f5f5" stroke="#444444" stroke-width="0.95"/>
<path d="M205.5,126.6L202.5,129.5L200.4,132.1L199.2,130.4L197.9,127.9L198.8,124.5L197.9,121.2L198.8,121.6L200.9,122.8L203.4,124.9L205.5,126.6Z" fill="#f5f5f5" stroke="#444444" stroke-width="0.95"/>
<path d="M191.0,165.8L189.0,171.0L187.4,176.2L184.3,180.4L182.2,182.5L179.6,181.5L178.5,179.4L181.1,176.2L182.7,173.1L182.7,169.0L185.3,166.4L187.4,166.4L191.0,165.8Z" fill="#f5f5f5" stroke="#444444" stroke-width="0.95"/>
<path d="M145.2,204.9L144.2,206.5L140.5,207.5L135.3,209.1L130.1,209.6L127.0,210.6L121.8,209.6L117.5,209.7L113.7,205.3L114.0,201.2L114.5,197.1L116.6,194.0L118.6,190.8L122.8,191.4L128.0,191.4L133.2,192.9L136.9,195.0L138.4,199.2L141.6,201.2L145.2,204.9Z" fill="#f5f5f5" stroke="#444444" stroke-width="0.95"/>
<path d="M138.3,223.9L138.2,227.0L136.2,230.0L134.2,233.0L132.2,236.0L129.3,238.6L126.2,241.2L123.2,244.6L120.6,248.4L119.3,249.2L118.5,247.8L119.2,245.0L120.0,242.5L117.2,240.0L115.0,237.6L110.0,236.1L106.0,234.5L103.5,232.5L100.0,231.0L98.0,230.0L102.1,225.7L107.1,220.0L112.9,215.7L117.5,212.0L123.4,214.9L127.9,215.7L132.3,219.4L136.1,221.6L138.3,223.9Z" fill="#f5f5f5" stroke="#444444" stroke-width="0.95"/>
<path d="M77.9,118.6L94.3,117.9L95.1,114.9L97.9,117.9L104.3,120.7L114.3,122.1L132.9,122.9L135.3,123.1L134.3,129.4L133.7,133.5L134.9,139.0L131.4,145.7L128.6,151.4L124.3,156.4L120.7,160.7L119.3,163.6L119.7,165.8L117.6,164.3L116.6,162.2L113.4,163.2L109.3,163.8L105.1,162.2L102.0,162.7L98.3,165.8L94.3,161.4L92.9,157.1L85.0,155.7L84.3,148.6L83.6,142.9L85.0,139.3L86.4,136.4L85.7,133.6L84.3,129.3L77.9,128.6L77.9,118.6Z" fill="#84cfc2" stroke="#3f4e4a" stroke-width="0.95"/>
<path d="M98.3,165.8L102.0,162.7L105.1,162.2L109.3,163.8L113.4,163.2L116.6,162.2L117.6,164.3L119.7,165.8L121.8,169.0L125.9,171.0L130.1,173.1L131.1,174.2L131.1,176.2L129.1,179.4L127.0,182.5L124.9,185.6L121.8,188.8L118.6,190.8L116.6,194.0L114.5,197.1L110.8,197.1L108.7,195.0L107.7,189.8L104.1,188.8L99.9,188.2L96.2,187.2L95.7,181.5L95.2,176.2L96.8,171.0L98.3,165.8Z" fill="#84cfc2" stroke="#3f4e4a" stroke-width="0.95"/>
<path d="M180.6,86.7L184.3,85.8L187.4,86.1L191.6,88.8L195.7,92.4L198.9,95.5L200.4,97.1L198.9,99.2L197.3,101.8L195.7,103.9L194.9,105.4L194.7,108.5L194.2,110.6L193.1,112.2L191.0,112.2L188.4,110.6L186.4,110.1L184.8,111.1L183.2,106.5L182.2,102.3L181.1,97.1L180.6,91.9L180.6,86.7Z" fill="#84cfc2" stroke="#3f4e4a" stroke-width="0.95"/>
<path d="M213.6,110.6L212.9,114.8L211.9,117.9L208.2,119.5L205.1,120.0L202.0,119.5L199.9,118.4L197.8,119.0L195.7,118.4L192.6,117.9L189.5,116.9L186.4,118.4L184.3,120.5L182.7,116.9L184.3,113.8L184.8,111.1L186.4,110.1L188.4,110.6L191.0,112.2L193.1,112.2L195.7,110.6L198.9,110.1L201.5,110.6L202.5,113.8L205.1,113.2L208.2,111.7L211.4,110.6L213.6,110.6Z" fill="#84cfc2" stroke="#3f4e4a" stroke-width="0.95"/>
<path d="M68.6,60.7L66.0,59.3L64.3,55.7L64.6,52.1L61.4,49.3L65.4,51.1L71.4,50.0L77.1,47.9L81.4,46.4L82.1,43.6L85.7,44.3L85.4,47.9L87.4,50.7L86.4,55.7L87.9,60.7L90.7,65.7L90.0,69.3L85.7,72.1L82.1,73.6L80.0,75.7L77.9,78.6L74.3,74.3L72.9,66.4L70.7,61.4L68.6,60.7Z" fill="#c3914c" stroke="#6a5236" stroke-width="0.85"/>
<path d="M134.9,139.0L137.4,140.1L140.5,139.7L143.9,141.1L148.0,141.7L152.2,140.6L155.3,140.0L156.5,147.1L155.9,149.2L152.8,151.5L151.7,154.9L150.5,158.5L149.9,162.7L149.4,163.8L147.8,167.4L143.6,168.4L138.4,169.0L134.3,171.6L131.1,174.2L130.1,173.1L125.9,171.0L121.8,169.0L119.7,165.8L119.3,163.6L120.7,160.7L124.3,156.4L128.6,151.4L131.4,145.7L134.9,139.0Z" fill="#c3914c" stroke="#6a5236" stroke-width="0.85"/>
<path d="M15.4,109.0L16.4,108.6L32.9,112.9L41.4,117.9L48.6,122.1L53.6,122.1L50.7,123.6L47.1,126.4L42.1,129.3L34.3,129.3L31.7,127.1L30.7,120.7L27.9,123.6L22.9,123.6L17.9,120.7L18.6,119.3L15.7,115.7L14.3,111.4L15.4,109.0Z" fill="#ad641c" stroke="#74501f" stroke-width="0.75"/>
<path d="M15.4,109.0L15.9,107.0L17.9,105.5L18.9,100.7L22.1,96.8L26.4,94.6L30.0,93.2L35.0,93.1L35.7,88.6L36.4,82.9L37.4,75.7L34.3,72.1L35.0,68.6L38.6,67.1L35.4,65.7L35.7,62.1L42.9,62.1L47.1,60.0L49.3,63.6L55.0,67.1L57.1,66.4L62.9,63.6L65.7,60.7L68.6,60.7L70.7,61.4L72.9,66.4L74.3,74.3L77.9,78.6L80.0,75.7L82.1,73.6L85.7,72.1L90.0,69.3L92.1,72.9L94.3,77.1L102.9,82.9L101.4,88.6L97.1,100.0L93.6,107.1L94.3,114.3L94.3,117.9L77.9,118.6L75.7,117.1L72.9,115.0L68.6,113.6L65.0,115.0L61.4,118.6L58.6,120.7L53.6,122.1L48.6,122.1L41.4,117.9L32.9,112.9L16.4,108.6L15.4,109.0Z" fill="#ad641c" stroke="#74501f" stroke-width="0.75"/>
<path d="M112.9,59.3L118.6,58.6L122.9,58.3L125.7,53.6L128.6,47.9L130.0,48.3L132.1,55.7L135.0,60.0L137.9,62.9L136.0,68.0L131.4,72.1L128.6,75.0L125.7,76.9L123.6,74.3L121.4,70.0L119.3,65.0L115.7,61.4L112.9,59.3Z" fill="#ad641c" stroke="#74501f" stroke-width="0.75"/>
<path d="M53.6,122.1L58.6,120.7L61.4,118.6L65.0,115.0L68.6,113.6L72.9,115.0L75.7,117.1L77.9,118.6L77.9,128.6L84.3,129.3L85.7,133.6L86.4,136.4L85.0,139.3L83.6,142.9L77.9,142.9L72.9,140.7L67.9,137.9L62.9,136.4L59.3,133.6L57.9,129.3L57.9,125.7L56.4,122.9L53.6,122.1Z" fill="#ad641c" stroke="#74501f" stroke-width="0.75"/>
<path d="M212.9,105.9L213.6,110.6L211.4,110.6L208.2,111.7L205.1,113.2L202.5,113.8L201.5,110.6L198.9,110.1L195.7,110.6L193.1,112.2L194.2,110.6L194.7,108.5L194.9,105.4L197.8,104.9L199.9,103.3L202.0,103.9L203.0,106.5L205.1,107.0L206.1,104.9L209.3,105.9L212.9,105.9Z" fill="#ad641c" stroke="#74501f" stroke-width="0.75"/>
<path d="M144.2,206.5L145.0,212.7L144.2,217.2L141.3,221.6L138.3,223.9L136.1,221.6L132.3,219.4L127.9,215.7L123.4,214.9L117.5,212.0L117.5,209.7L121.8,209.6L127.0,210.6L130.1,209.6L135.3,209.1L140.5,207.5L144.2,206.5Z" fill="#ad641c" stroke="#74501f" stroke-width="0.75"/>
<path d="M90.7,65.7L94.3,63.6L98.6,61.4L105.0,60.0L106.4,58.3L110.7,57.9L112.9,59.3L115.7,61.4L119.3,65.0L121.4,70.0L123.6,74.3L125.7,76.9L128.6,75.0L131.4,72.1L136.0,68.0L140.0,70.7L144.3,74.3L150.0,75.0L155.7,76.4L157.9,78.6L155.7,85.7L151.4,94.3L145.7,98.6L144.2,104.4L141.0,109.6L140.0,112.7L137.9,117.9L135.3,123.1L132.9,122.9L114.3,122.1L104.3,120.7L97.9,117.9L95.1,114.9L94.3,117.9L94.3,114.3L93.6,107.1L97.1,100.0L101.4,88.6L102.9,82.9L94.3,77.1L92.1,72.9L90.0,69.3L90.7,65.7Z" fill="#0a8972" stroke="#2d7164" stroke-width="0.65"/>
<path d="M200.4,132.1L197.8,136.7L194.7,139.8L193.1,141.4L192.6,146.0L193.1,150.2L193.1,154.4L192.6,158.5L192.1,162.7L191.0,165.8L187.4,166.4L185.3,166.4L187.4,164.8L187.4,160.6L186.4,157.5L184.3,154.4L180.1,151.2L177.0,150.2L170.7,149.2L166.6,147.6L163.4,146.6L159.8,147.3L155.9,149.2L156.5,147.1L155.3,140.0L155.0,136.7L153.9,133.5L154.3,130.4L156.7,127.8L161.4,127.8L164.5,126.3L167.6,123.6L168.6,121.0L171.8,121.0L174.9,120.5L178.0,119.5L181.1,118.4L182.7,116.9L184.3,120.5L186.4,118.4L189.5,116.9L192.6,117.9L195.7,118.4L197.8,119.0L197.9,121.2L198.8,124.5L197.9,127.9L199.2,130.4L200.4,132.1Z" fill="#0a8972" stroke="#2d7164" stroke-width="0.65"/>
<path d="M155.9,149.2L159.8,147.3L163.4,146.6L166.6,147.6L170.7,149.2L177.0,150.2L180.1,151.2L184.3,154.4L186.4,157.5L187.4,160.6L187.4,164.8L185.3,166.4L182.7,169.0L182.7,173.1L181.1,176.2L178.5,179.4L179.6,181.5L177.0,183.5L173.9,185.6L170.7,186.7L166.6,188.2L162.9,189.3L158.7,188.2L155.1,186.1L152.5,183.5L150.9,179.4L148.9,175.7L143.6,175.2L137.4,175.7L131.1,176.2L131.1,174.2L134.3,171.6L138.4,169.0L143.6,168.4L147.8,167.4L149.4,163.8L149.9,162.7L150.5,158.5L151.7,154.9L152.8,151.5L155.9,149.2Z" fill="#0a8972" stroke="#2d7164" stroke-width="0.65"/>
<path d="M182.2,182.5L182.7,186.7L179.1,188.8L177.0,191.4L172.8,191.9L168.6,192.4L164.5,192.9L162.9,189.3L166.6,188.2L170.7,186.7L173.9,185.6L177.0,183.5L179.6,181.5L182.2,182.5Z" fill="#0a8972" stroke="#2d7164" stroke-width="0.65"/>
<path d="M164.5,192.9L160.3,196.0L156.1,198.1L152.0,201.2L147.8,203.3L145.2,204.9L141.6,201.2L138.4,199.2L136.9,195.0L133.2,192.9L128.0,191.4L122.8,191.4L118.6,190.8L121.8,188.8L124.9,185.6L127.0,182.5L129.1,179.4L131.1,176.2L137.4,175.7L143.6,175.2L148.9,175.7L150.9,179.4L152.5,183.5L155.1,186.1L158.7,188.2L162.9,189.3L164.5,192.9Z" fill="#0a8972" stroke="#2d7164" stroke-width="0.65"/>
<path d="M145.7,153.9L146.2,153.3L148.9,153.3L149.4,153.9L149.4,155.4L148.9,155.9L146.2,155.9L145.7,155.4Z" fill="#f5f5f5" stroke="#444444" stroke-width="0.6"/>
<path d="M136.0,68.0L140.0,70.7L144.3,74.3L150.0,75.0L155.7,76.4L157.9,78.6" fill="none" stroke="#3d4a46" stroke-width="0.9"/>
<path d="M126.4,238.6L128.0,236.4L130.0,234.0L132.4,231.7L133.3,232.3L132.0,234.6L130.0,236.9L127.8,239.2Z" fill="#fff" stroke="#444444" stroke-width="0.66"/>
<circle cx="225.4" cy="91.8" r="0.7" fill="#8a8a8a"/>
</g>
</g>
<g class="mt">
<text x="128.6" y="13.6">Nível de atividade</text>
<text x="128.6" y="26.7">(últimas 2 semanas)</text>
<text x="474" y="18" class="m2">Tendência de longo prazo</text>
<text x="474" y="30.9" class="m2">(últimas 6 semanas)</text>
<text x="128.6" y="293.6">Nível de atividade</text>
<text x="128.6" y="306.7">(últimas 2 semanas)</text>
<text x="474" y="298" class="m2">Tendência de longo prazo</text>
<text x="474" y="310.9" class="m2">(últimas 6 semanas)</text>
</g>
<g class="ct">
<text x="302.7" y="21.4" style="font-size:13.05px">Semana 03 2026</text>
<text x="302.8" y="40">(18/01 - 24/01):</text>
<text x="301.6" y="57.7" style="font-size:12.35px">Estados e DF</text>
<text x="305.5" y="290.4">Capitais e região</text>
<text x="305" y="308.5">central de saúde do DF</text>
</g>
<g class="lt">
<rect x="272.3" y="105.4" width="16" height="15.5" fill="#ad641c" stroke="#8e8e8e" stroke-width="0.7"/>
<text x="293.9" y="118.1">Alto risco</text>
<rect x="272.3" y="122.0" width="16" height="15.5" fill="#c3914c" stroke="#8e8e8e" stroke-width="0.7"/>
<text x="293.9" y="134.7">Risco</text>
<rect x="272.3" y="138.6" width="16" height="15.5" fill="#e2c47f" stroke="#8e8e8e" stroke-width="0.7"/>
<text x="293.9" y="151.3">Alerta</text>
<rect x="272.3" y="155.2" width="16" height="15.5" fill="#fffbe0" stroke="#8e8e8e" stroke-width="0.7"/>
<text x="293.9" y="167.9">Segurança</text>
<rect x="272.3" y="171.8" width="16" height="15.5" fill="#0a8972" stroke="#8e8e8e" stroke-width="0.7"/>
<text x="293.9" y="184.5">Baixo risco</text>
<rect x="272.3" y="385.4" width="16" height="15.5" fill="#ad641c" stroke="#8e8e8e" stroke-width="0.7"/>
<text x="293.9" y="398.1">Alto risco</text>
<rect x="272.3" y="402.0" width="16" height="15.5" fill="#c3914c" stroke="#8e8e8e" stroke-width="0.7"/>
<text x="293.9" y="414.7">Risco</text>
<rect x="272.3" y="418.6" width="16" height="15.5" fill="#e2c47f" stroke="#8e8e8e" stroke-width="0.7"/>
<text x="293.9" y="431.3">Alerta</text>
<rect x="272.3" y="435.2" width="16" height="15.5" fill="#fffbe0" stroke="#8e8e8e" stroke-width="0.7"/>
<text x="293.9" y="447.9">Segurança</text>
<rect x="272.3" y="451.8" width="16" height="15.5" fill="#0a8972" stroke="#8e8e8e" stroke-width="0.7"/>
<text x="293.9" y="464.5">Baixo risco</text>
</g>
<g class="lt2">
<rect x="612.3" y="94.4" width="15.6" height="19.8" fill="#ad641c" stroke="#8e8e8e" stroke-width="0.7"/>
<text x="633.5" y="104.0">Prob. cresc.</text>
<text x="633.5" y="114.0">&gt; 95%</text>
<rect x="612.3" y="115.6" width="15.6" height="19.8" fill="#c3914c" stroke="#8e8e8e" stroke-width="0.7"/>
<text x="633.5" y="125.2">Prob. cresc.</text>
<text x="633.5" y="135.2">&gt; 75%</text>
<rect x="612.3" y="136.8" width="15.6" height="19.8" fill="#f5f5f5" stroke="#8e8e8e" stroke-width="0.7"/>
<text x="633.5" y="146.4">Estabilidade./</text>
<text x="633.5" y="156.4">oscilação</text>
<rect x="612.3" y="158.0" width="15.6" height="19.8" fill="#84cfc2" stroke="#8e8e8e" stroke-width="0.7"/>
<text x="633.5" y="167.6">Prob. queda</text>
<text x="633.5" y="177.6">&gt; 75%</text>
<rect x="612.3" y="179.2" width="15.6" height="19.8" fill="#0a8972" stroke="#8e8e8e" stroke-width="0.7"/>
<text x="633.5" y="188.8">Prob. queda</text>
<text x="633.5" y="198.8">&gt; 95%</text>
<rect x="612.3" y="374.4" width="15.6" height="19.8" fill="#ad641c" stroke="#8e8e8e" stroke-width="0.7"/>
<text x="633.5" y="384.0">Prob. cresc.</text>
<text x="633.5" y="394.0">&gt; 95%</text>
<rect x="612.3" y="395.6" width="15.6" height="19.8" fill="#c3914c" stroke="#8e8e8e" stroke-width="0.7"/>
<text x="633.5" y="405.2">Prob. cresc.</text>
<text x="633.5" y="415.2">&gt; 75%</text>
<rect x="612.3" y="416.8" width="15.6" height="19.8" fill="#f5f5f5" stroke="#8e8e8e" stroke-width="0.7"/>
<text x="633.5" y="426.4">Estabilidade./</text>
<text x="633.5" y="436.4">oscilação</text>
<rect x="612.3" y="438.0" width="15.6" height="19.8" fill="#84cfc2" stroke="#8e8e8e" stroke-width="0.7"/>
<text x="633.5" y="447.6">Prob. queda</text>
<text x="633.5" y="457.6">&gt; 75%</text>
<rect x="612.3" y="459.2" width="15.6" height="19.8" fill="#0a8972" stroke="#8e8e8e" stroke-width="0.7"/>
<text x="633.5" y="468.8">Prob. queda</text>
<text x="633.5" y="478.8">&gt; 95%</text>
</g>
<g transform="translate(0,0)">
<path d="M11,258.9 C7.6,258.9 5,261.6 5,264.9 C5,269 9.2,273.2 11,276.3 C12.8,273.2 17,269 17,264.9 C17,261.6 14.4,258.9 11,258.9Z" fill="#1c86c8"/>
<circle cx="11" cy="264.9" r="4.6" fill="#2f9bdc"/>
<rect x="10.1" y="262.4" width="1.8" height="4.9" rx="0.7" fill="#fff"/>
<circle cx="11" cy="268.8" r="0.95" fill="#fff"/>
<text transform="translate(20.7,269.15) scale(0.935,1)" class="lg1">INFO</text>
<text transform="translate(20.8,275.95) scale(0.89,1)" class="lg2">GRIPE</text>
</g>
<g transform="translate(0,280)">
<path d="M11,258.9 C7.6,258.9 5,261.6 5,264.9 C5,269 9.2,273.2 11,276.3 C12.8,273.2 17,269 17,264.9 C17,261.6 14.4,258.9 11,258.9Z" fill="#1c86c8"/>
<circle cx="11" cy="264.9" r="4.6" fill="#2f9bdc"/>
<rect x="10.1" y="262.4" width="1.8" height="4.9" rx="0.7" fill="#fff"/>
<circle cx="11" cy="268.8" r="0.95" fill="#fff"/>
<text transform="translate(20.7,269.15) scale(0.935,1)" class="lg1">INFO</text>
<text transform="translate(20.8,275.95) scale(0.89,1)" class="lg2">GRIPE</text>
</g>
</svg>
</body>
</html>
